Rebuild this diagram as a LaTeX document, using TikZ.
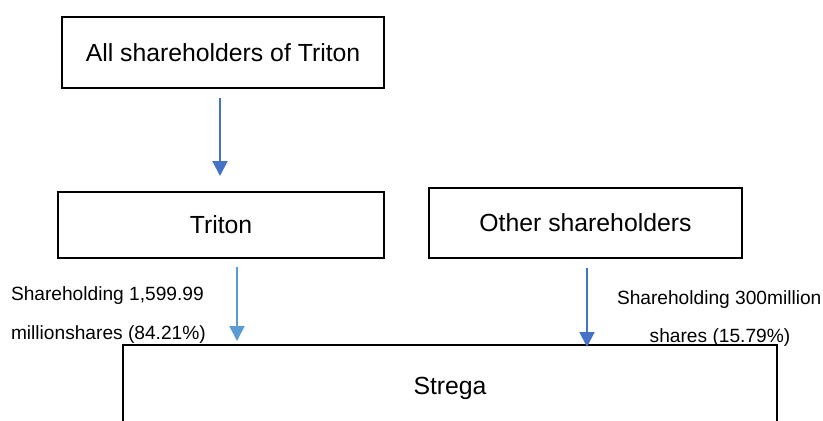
\documentclass[tikz,border=0pt]{standalone}
\usepackage{fontspec}
\setmainfont{Liberation Sans}
\newcommand*{\boxfont}{\fontsize{14.1pt}{16pt}\selectfont}
\newcommand*{\notefont}{\fontsize{10.9pt}{13pt}\selectfont}
\definecolor{darkblue}{RGB}{68,114,196}
\definecolor{lightblue}{RGB}{91,155,213}
\usetikzlibrary{arrows.meta}
\usetikzlibrary{positioning}
\tikzstyle{base}=[x=0.02cm, y=-0.02cm, inner sep=0pt, outer sep=0pt]
\tikzstyle{holder}=[draw=black, line width=1.1pt, fill=white, font=\boxfont]
\tikzstyle{note}=[font=\notefont, anchor=west]
\tikzstyle{flow}=[line width=1.1pt, -{Triangle[width=0.3cm,length=0.3cm]}]

\begin{document}
\begin{tikzpicture}[base]
    \clip (0,0) rectangle (823,421);
    \fill [white] (0,0) rectangle (823,421);
        \node [holder, minimum width=6.44cm, minimum height=1.42cm] (all) at (223,52.5) {All shareholders of Triton};
        \node [holder, minimum width=6.52cm, minimum height=1.32cm] (triton) at (221,225) {Triton};
        \node [holder, minimum width=6.26cm, minimum height=1.40cm] (other) at (585.5,223) {Other shareholders};
        \node [holder, minimum width=13.08cm, minimum height=2.6cm] (strega) at (450,410) {};
        \node [font=\boxfont] (stregatext) at (450,388) {Strega};
        % holdings
        \node [note] (lefttop) at (11,296) {Shareholding 1,599.99};
        \node [note] (leftbot) at (11,335) {millionshares (84.21\%)};
        \node [note] (righttop) at (617,300) {Shareholding 300million};
        \node [note, anchor=center] (rightbot) at (720,338) {shares (15.79\%)};
        % arrows
        \draw [flow, darkblue, shorten <=0.2cm, shorten >=0.32cm] ([xshift=-0.06cm]all.south) -- ([xshift=-0.06cm]all.south |- triton.north);
        \draw [flow, lightblue, shorten <=0.18cm, shorten >=0.08cm] ([xshift=0.32cm]triton.south) -- ([xshift=0.32cm]triton.south |- strega.north);
        \draw [flow, darkblue, shorten <=0.2cm, shorten >=-0.04cm] ([xshift=0.03cm]other.south) -- ([xshift=0.03cm]other.south |- strega.north);
\end{tikzpicture}
\end{document}
